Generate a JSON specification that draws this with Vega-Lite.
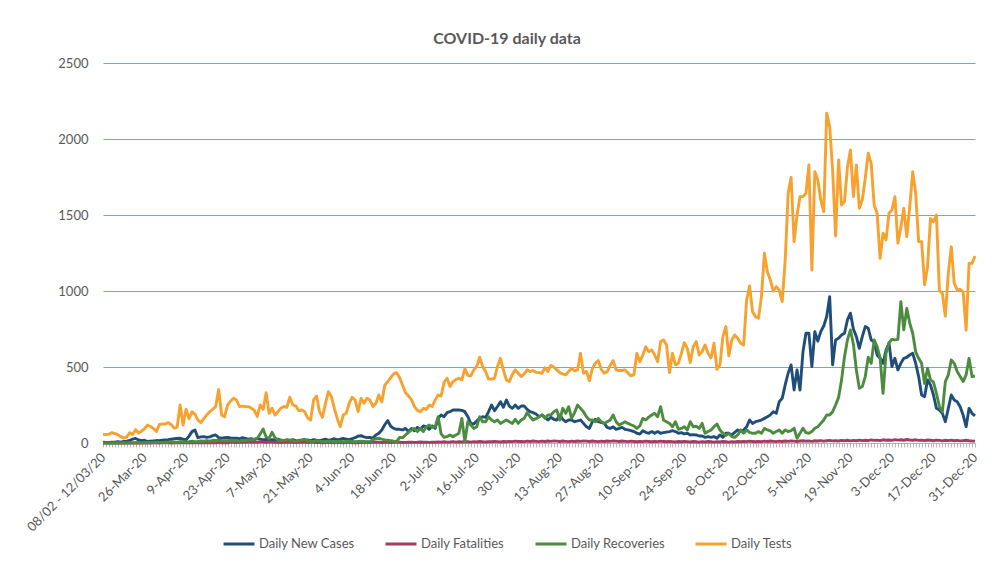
{
"$schema": "https://vega.github.io/schema/vega-lite/v6.json",
"width": 872, "height": 380,
"autosize": {"type": "none"},
"padding": {"left": 103, "top": 63, "right": 20, "bottom": 120},
"background": "white",
"config": {
 "font": "Lato",
 "view": {"stroke": null},
 "axisY": {"domain": false, "ticks": false, "grid": true, "gridColor": "#7F9FD6", "gridWidth": 1, "gridOpacity": 1, "labelColor": "#595959", "labelFontSize": 13, "labelPadding": 15, "tickCount": 5, "format": "d", "title": null},
 "axisX": {"grid": false, "domainColor": "#B0B0B0", "tickColor": "#B8B8B8", "tickSize": 4, "labelColor": "#595959", "labelFontSize": 13, "labelAngle": -45, "labelAlign": "right", "labelBaseline": "middle", "labelPadding": 8, "labelOverlap": false, "title": null}
},
"title": {"text": "COVID-19 daily data", "fontSize": 16, "fontWeight": "bold", "color": "#595959", "anchor": "middle", "dx": -32, "offset": 10},
"data": {"values": [
{"d":"08/02 - 12/03/20","c":5,"f":0,"r":0,"t":57},
{"d":"13-Mar-20","c":3,"f":0,"r":0,"t":55},
{"d":"14-Mar-20","c":4,"f":0,"r":0,"t":58},
{"d":"15-Mar-20","c":6,"f":0,"r":0,"t":68},
{"d":"16-Mar-20","c":5,"f":0,"r":0,"t":62},
{"d":"17-Mar-20","c":8,"f":0,"r":1,"t":55},
{"d":"18-Mar-20","c":5,"f":0,"r":0,"t":42},
{"d":"19-Mar-20","c":10,"f":0,"r":1,"t":32},
{"d":"20-Mar-20","c":12,"f":0,"r":0,"t":39},
{"d":"21-Mar-20","c":18,"f":0,"r":2,"t":68},
{"d":"22-Mar-20","c":25,"f":1,"r":1,"t":56},
{"d":"23-Mar-20","c":30,"f":0,"r":2,"t":88},
{"d":"24-Mar-20","c":20,"f":0,"r":3,"t":66},
{"d":"25-Mar-20","c":15,"f":1,"r":2,"t":78},
{"d":"26-Mar-20","c":18,"f":0,"r":3,"t":95},
{"d":"27-Mar-20","c":10,"f":1,"r":4,"t":118},
{"d":"28-Mar-20","c":12,"f":0,"r":2,"t":108},
{"d":"29-Mar-20","c":14,"f":1,"r":3,"t":96},
{"d":"30-Mar-20","c":16,"f":2,"r":5,"t":75},
{"d":"31-Mar-20","c":15,"f":0,"r":4,"t":122},
{"d":"1-Apr-20","c":18,"f":1,"r":3,"t":126},
{"d":"2-Apr-20","c":20,"f":2,"r":6,"t":125},
{"d":"3-Apr-20","c":22,"f":1,"r":5,"t":134},
{"d":"4-Apr-20","c":25,"f":0,"r":8,"t":120},
{"d":"5-Apr-20","c":28,"f":2,"r":6,"t":98},
{"d":"6-Apr-20","c":30,"f":1,"r":5,"t":105},
{"d":"7-Apr-20","c":31,"f":3,"r":8,"t":250},
{"d":"8-Apr-20","c":25,"f":1,"r":10,"t":118},
{"d":"9-Apr-20","c":20,"f":2,"r":7,"t":222},
{"d":"10-Apr-20","c":45,"f":1,"r":9,"t":160},
{"d":"11-Apr-20","c":75,"f":2,"r":12,"t":205},
{"d":"12-Apr-20","c":86,"f":3,"r":8,"t":190},
{"d":"13-Apr-20","c":35,"f":1,"r":10,"t":151},
{"d":"14-Apr-20","c":40,"f":2,"r":14,"t":134},
{"d":"15-Apr-20","c":42,"f":3,"r":12,"t":160},
{"d":"16-Apr-20","c":37,"f":2,"r":16,"t":185},
{"d":"17-Apr-20","c":40,"f":1,"r":12,"t":206},
{"d":"18-Apr-20","c":48,"f":3,"r":18,"t":222},
{"d":"19-Apr-20","c":53,"f":2,"r":15,"t":240},
{"d":"20-Apr-20","c":35,"f":4,"r":20,"t":353},
{"d":"21-Apr-20","c":31,"f":2,"r":14,"t":184},
{"d":"22-Apr-20","c":35,"f":3,"r":16,"t":173},
{"d":"23-Apr-20","c":37,"f":2,"r":15,"t":250},
{"d":"24-Apr-20","c":33,"f":4,"r":18,"t":275},
{"d":"25-Apr-20","c":31,"f":5,"r":14,"t":295},
{"d":"26-Apr-20","c":32,"f":3,"r":15,"t":283},
{"d":"27-Apr-20","c":28,"f":6,"r":12,"t":240},
{"d":"28-Apr-20","c":35,"f":4,"r":18,"t":243},
{"d":"29-Apr-20","c":30,"f":5,"r":15,"t":240},
{"d":"30-Apr-20","c":25,"f":7,"r":20,"t":239},
{"d":"1-May-20","c":28,"f":4,"r":22,"t":230},
{"d":"2-May-20","c":22,"f":6,"r":25,"t":215},
{"d":"3-May-20","c":30,"f":5,"r":30,"t":175},
{"d":"4-May-20","c":26,"f":8,"r":59,"t":250},
{"d":"5-May-20","c":20,"f":6,"r":92,"t":221},
{"d":"6-May-20","c":24,"f":5,"r":40,"t":331},
{"d":"7-May-20","c":18,"f":7,"r":30,"t":195},
{"d":"8-May-20","c":22,"f":6,"r":70,"t":228},
{"d":"9-May-20","c":20,"f":4,"r":33,"t":184},
{"d":"10-May-20","c":25,"f":5,"r":20,"t":206},
{"d":"11-May-20","c":18,"f":3,"r":18,"t":230},
{"d":"12-May-20","c":15,"f":4,"r":15,"t":240},
{"d":"13-May-20","c":20,"f":6,"r":20,"t":235},
{"d":"14-May-20","c":17,"f":5,"r":18,"t":301},
{"d":"15-May-20","c":22,"f":4,"r":15,"t":250},
{"d":"16-May-20","c":15,"f":3,"r":12,"t":243},
{"d":"17-May-20","c":12,"f":5,"r":18,"t":213},
{"d":"18-May-20","c":18,"f":4,"r":20,"t":217},
{"d":"19-May-20","c":14,"f":6,"r":25,"t":206},
{"d":"20-May-20","c":20,"f":3,"r":15,"t":165},
{"d":"21-May-20","c":16,"f":4,"r":12,"t":151},
{"d":"22-May-20","c":22,"f":5,"r":10,"t":283},
{"d":"23-May-20","c":18,"f":3,"r":15,"t":309},
{"d":"24-May-20","c":15,"f":4,"r":12,"t":206},
{"d":"25-May-20","c":20,"f":2,"r":10,"t":169},
{"d":"26-May-20","c":25,"f":3,"r":8,"t":261},
{"d":"27-May-20","c":18,"f":4,"r":12,"t":338},
{"d":"28-May-20","c":22,"f":3,"r":10,"t":305},
{"d":"29-May-20","c":28,"f":2,"r":8,"t":228},
{"d":"30-May-20","c":20,"f":4,"r":10,"t":160},
{"d":"31-May-20","c":25,"f":3,"r":12,"t":107},
{"d":"1-Jun-20","c":30,"f":2,"r":8,"t":184},
{"d":"2-Jun-20","c":26,"f":3,"r":10,"t":195},
{"d":"3-Jun-20","c":22,"f":4,"r":12,"t":261},
{"d":"4-Jun-20","c":28,"f":2,"r":10,"t":301},
{"d":"5-Jun-20","c":35,"f":3,"r":8,"t":283},
{"d":"6-Jun-20","c":45,"f":2,"r":10,"t":206},
{"d":"7-Jun-20","c":48,"f":4,"r":12,"t":294},
{"d":"8-Jun-20","c":40,"f":3,"r":10,"t":261},
{"d":"9-Jun-20","c":35,"f":5,"r":8,"t":294},
{"d":"10-Jun-20","c":37,"f":3,"r":10,"t":283},
{"d":"11-Jun-20","c":31,"f":4,"r":22,"t":240},
{"d":"12-Jun-20","c":53,"f":6,"r":28,"t":262},
{"d":"13-Jun-20","c":64,"f":5,"r":31,"t":316},
{"d":"14-Jun-20","c":86,"f":3,"r":25,"t":270},
{"d":"15-Jun-20","c":120,"f":4,"r":20,"t":380},
{"d":"16-Jun-20","c":147,"f":5,"r":18,"t":404},
{"d":"17-Jun-20","c":110,"f":3,"r":15,"t":430},
{"d":"18-Jun-20","c":96,"f":4,"r":12,"t":455},
{"d":"19-Jun-20","c":90,"f":6,"r":8,"t":463},
{"d":"20-Jun-20","c":90,"f":5,"r":37,"t":430},
{"d":"21-Jun-20","c":86,"f":3,"r":35,"t":380},
{"d":"22-Jun-20","c":96,"f":4,"r":53,"t":330},
{"d":"23-Jun-20","c":75,"f":5,"r":70,"t":310},
{"d":"24-Jun-20","c":96,"f":6,"r":86,"t":285},
{"d":"25-Jun-20","c":80,"f":4,"r":96,"t":240},
{"d":"26-Jun-20","c":103,"f":5,"r":75,"t":215},
{"d":"27-Jun-20","c":90,"f":7,"r":96,"t":206},
{"d":"28-Jun-20","c":112,"f":5,"r":75,"t":228},
{"d":"29-Jun-20","c":107,"f":6,"r":107,"t":221},
{"d":"30-Jun-20","c":90,"f":4,"r":118,"t":250},
{"d":"1-Jul-20","c":112,"f":6,"r":103,"t":240},
{"d":"2-Jul-20","c":96,"f":5,"r":107,"t":283},
{"d":"3-Jul-20","c":162,"f":7,"r":173,"t":316},
{"d":"4-Jul-20","c":184,"f":6,"r":60,"t":309},
{"d":"5-Jul-20","c":173,"f":8,"r":37,"t":400},
{"d":"6-Jul-20","c":200,"f":6,"r":42,"t":426},
{"d":"7-Jul-20","c":206,"f":7,"r":53,"t":371},
{"d":"8-Jul-20","c":217,"f":9,"r":42,"t":404},
{"d":"9-Jul-20","c":217,"f":6,"r":53,"t":418},
{"d":"10-Jul-20","c":217,"f":8,"r":64,"t":426},
{"d":"11-Jul-20","c":215,"f":7,"r":162,"t":415},
{"d":"12-Jul-20","c":206,"f":9,"r":8,"t":490},
{"d":"13-Jul-20","c":173,"f":8,"r":140,"t":445},
{"d":"14-Jul-20","c":129,"f":6,"r":118,"t":442},
{"d":"15-Jul-20","c":125,"f":9,"r":96,"t":481},
{"d":"16-Jul-20","c":145,"f":7,"r":107,"t":503},
{"d":"17-Jul-20","c":162,"f":10,"r":173,"t":564},
{"d":"18-Jul-20","c":173,"f":8,"r":140,"t":503},
{"d":"19-Jul-20","c":169,"f":7,"r":140,"t":470},
{"d":"20-Jul-20","c":206,"f":9,"r":173,"t":420},
{"d":"21-Jul-20","c":250,"f":8,"r":151,"t":420},
{"d":"22-Jul-20","c":213,"f":10,"r":140,"t":426},
{"d":"23-Jul-20","c":240,"f":9,"r":151,"t":503},
{"d":"24-Jul-20","c":272,"f":7,"r":129,"t":557},
{"d":"25-Jul-20","c":235,"f":10,"r":140,"t":480},
{"d":"26-Jul-20","c":283,"f":8,"r":151,"t":415},
{"d":"27-Jul-20","c":243,"f":11,"r":140,"t":404},
{"d":"28-Jul-20","c":228,"f":9,"r":129,"t":450},
{"d":"29-Jul-20","c":250,"f":12,"r":156,"t":481},
{"d":"30-Jul-20","c":228,"f":10,"r":129,"t":459},
{"d":"31-Jul-20","c":243,"f":11,"r":151,"t":437},
{"d":"1-Aug-20","c":243,"f":9,"r":162,"t":455},
{"d":"2-Aug-20","c":221,"f":12,"r":200,"t":481},
{"d":"3-Aug-20","c":206,"f":10,"r":173,"t":470},
{"d":"4-Aug-20","c":200,"f":13,"r":151,"t":477},
{"d":"5-Aug-20","c":191,"f":11,"r":160,"t":465},
{"d":"6-Aug-20","c":173,"f":9,"r":173,"t":463},
{"d":"7-Aug-20","c":184,"f":12,"r":184,"t":459},
{"d":"8-Aug-20","c":170,"f":10,"r":162,"t":495},
{"d":"9-Aug-20","c":151,"f":13,"r":184,"t":470},
{"d":"10-Aug-20","c":169,"f":11,"r":184,"t":510},
{"d":"11-Aug-20","c":156,"f":14,"r":206,"t":500},
{"d":"12-Aug-20","c":151,"f":12,"r":217,"t":481},
{"d":"13-Aug-20","c":184,"f":10,"r":151,"t":463},
{"d":"14-Aug-20","c":156,"f":13,"r":228,"t":455},
{"d":"15-Aug-20","c":140,"f":11,"r":195,"t":448},
{"d":"16-Aug-20","c":151,"f":9,"r":239,"t":470},
{"d":"17-Aug-20","c":151,"f":12,"r":162,"t":492},
{"d":"18-Aug-20","c":140,"f":10,"r":200,"t":475},
{"d":"19-Aug-20","c":145,"f":13,"r":250,"t":481},
{"d":"20-Aug-20","c":151,"f":11,"r":228,"t":590},
{"d":"21-Aug-20","c":129,"f":14,"r":206,"t":459},
{"d":"22-Aug-20","c":107,"f":12,"r":173,"t":470},
{"d":"23-Aug-20","c":96,"f":10,"r":151,"t":410},
{"d":"24-Aug-20","c":140,"f":13,"r":151,"t":490},
{"d":"25-Aug-20","c":156,"f":11,"r":140,"t":525},
{"d":"26-Aug-20","c":140,"f":9,"r":162,"t":542},
{"d":"27-Aug-20","c":135,"f":12,"r":140,"t":485},
{"d":"28-Aug-20","c":129,"f":10,"r":129,"t":459},
{"d":"29-Aug-20","c":103,"f":13,"r":140,"t":470},
{"d":"30-Aug-20","c":96,"f":11,"r":151,"t":510},
{"d":"31-Aug-20","c":107,"f":14,"r":184,"t":542},
{"d":"1-Sep-20","c":90,"f":12,"r":140,"t":481},
{"d":"2-Sep-20","c":96,"f":10,"r":118,"t":477},
{"d":"3-Sep-20","c":103,"f":13,"r":129,"t":477},
{"d":"4-Sep-20","c":90,"f":11,"r":140,"t":481},
{"d":"5-Sep-20","c":86,"f":9,"r":129,"t":460},
{"d":"6-Sep-20","c":81,"f":12,"r":120,"t":442},
{"d":"7-Sep-20","c":75,"f":10,"r":112,"t":450},
{"d":"8-Sep-20","c":64,"f":8,"r":96,"t":590},
{"d":"9-Sep-20","c":59,"f":11,"r":112,"t":535},
{"d":"10-Sep-20","c":81,"f":9,"r":162,"t":579},
{"d":"11-Sep-20","c":70,"f":12,"r":151,"t":634},
{"d":"12-Sep-20","c":64,"f":10,"r":170,"t":601},
{"d":"13-Sep-20","c":75,"f":8,"r":184,"t":612},
{"d":"14-Sep-20","c":64,"f":11,"r":195,"t":579},
{"d":"15-Sep-20","c":75,"f":9,"r":173,"t":535},
{"d":"16-Sep-20","c":64,"f":12,"r":239,"t":667},
{"d":"17-Sep-20","c":68,"f":10,"r":150,"t":678},
{"d":"18-Sep-20","c":72,"f":8,"r":140,"t":645},
{"d":"19-Sep-20","c":75,"f":11,"r":129,"t":463},
{"d":"20-Sep-20","c":81,"f":9,"r":107,"t":590},
{"d":"21-Sep-20","c":75,"f":7,"r":140,"t":514},
{"d":"22-Sep-20","c":64,"f":10,"r":90,"t":525},
{"d":"23-Sep-20","c":68,"f":8,"r":96,"t":590},
{"d":"24-Sep-20","c":60,"f":11,"r":107,"t":660},
{"d":"25-Sep-20","c":64,"f":9,"r":86,"t":623},
{"d":"26-Sep-20","c":53,"f":7,"r":140,"t":529},
{"d":"27-Sep-20","c":55,"f":10,"r":107,"t":634},
{"d":"28-Sep-20","c":53,"f":8,"r":110,"t":667},
{"d":"29-Sep-20","c":46,"f":6,"r":96,"t":579},
{"d":"30-Sep-20","c":46,"f":9,"r":129,"t":601},
{"d":"1-Oct-20","c":37,"f":7,"r":64,"t":645},
{"d":"2-Oct-20","c":42,"f":10,"r":75,"t":590},
{"d":"3-Oct-20","c":37,"f":8,"r":86,"t":560},
{"d":"4-Oct-20","c":42,"f":6,"r":107,"t":656},
{"d":"5-Oct-20","c":31,"f":9,"r":125,"t":485},
{"d":"6-Oct-20","c":53,"f":7,"r":86,"t":514},
{"d":"7-Oct-20","c":37,"f":10,"r":64,"t":700},
{"d":"8-Oct-20","c":64,"f":8,"r":50,"t":766},
{"d":"9-Oct-20","c":64,"f":6,"r":64,"t":573},
{"d":"10-Oct-20","c":53,"f":9,"r":42,"t":678},
{"d":"11-Oct-20","c":70,"f":7,"r":37,"t":711},
{"d":"12-Oct-20","c":86,"f":10,"r":53,"t":689},
{"d":"13-Oct-20","c":75,"f":8,"r":86,"t":656},
{"d":"14-Oct-20","c":86,"f":11,"r":64,"t":645},
{"d":"15-Oct-20","c":107,"f":9,"r":86,"t":941},
{"d":"16-Oct-20","c":151,"f":12,"r":70,"t":1033},
{"d":"17-Oct-20","c":129,"f":10,"r":64,"t":864},
{"d":"18-Oct-20","c":140,"f":8,"r":64,"t":831},
{"d":"19-Oct-20","c":145,"f":11,"r":75,"t":820},
{"d":"20-Oct-20","c":151,"f":9,"r":64,"t":963},
{"d":"21-Oct-20","c":162,"f":12,"r":96,"t":1248},
{"d":"22-Oct-20","c":173,"f":10,"r":86,"t":1127},
{"d":"23-Oct-20","c":185,"f":13,"r":80,"t":1072},
{"d":"24-Oct-20","c":206,"f":11,"r":64,"t":1000},
{"d":"25-Oct-20","c":195,"f":9,"r":75,"t":1028},
{"d":"26-Oct-20","c":272,"f":12,"r":86,"t":1006},
{"d":"27-Oct-20","c":294,"f":10,"r":64,"t":930},
{"d":"28-Oct-20","c":382,"f":13,"r":86,"t":1200},
{"d":"29-Oct-20","c":459,"f":11,"r":75,"t":1643},
{"d":"30-Oct-20","c":514,"f":14,"r":81,"t":1748},
{"d":"31-Oct-20","c":349,"f":12,"r":97,"t":1325},
{"d":"1-Nov-20","c":480,"f":10,"r":31,"t":1500},
{"d":"2-Nov-20","c":349,"f":13,"r":64,"t":1621},
{"d":"3-Nov-20","c":600,"f":15,"r":97,"t":1621},
{"d":"4-Nov-20","c":722,"f":12,"r":68,"t":1643},
{"d":"5-Nov-20","c":722,"f":14,"r":64,"t":1829},
{"d":"6-Nov-20","c":503,"f":11,"r":75,"t":1138},
{"d":"7-Nov-20","c":733,"f":15,"r":97,"t":1785},
{"d":"8-Nov-20","c":670,"f":13,"r":107,"t":1730},
{"d":"9-Nov-20","c":733,"f":16,"r":129,"t":1599},
{"d":"10-Nov-20","c":770,"f":12,"r":151,"t":1522},
{"d":"11-Nov-20","c":832,"f":15,"r":184,"t":2169},
{"d":"12-Nov-20","c":963,"f":17,"r":184,"t":2081},
{"d":"13-Nov-20","c":514,"f":14,"r":206,"t":1796},
{"d":"14-Nov-20","c":678,"f":16,"r":250,"t":1362},
{"d":"15-Nov-20","c":689,"f":13,"r":300,"t":1862},
{"d":"16-Nov-20","c":710,"f":17,"r":414,"t":1566},
{"d":"17-Nov-20","c":722,"f":15,"r":568,"t":1588},
{"d":"18-Nov-20","c":810,"f":18,"r":678,"t":1818},
{"d":"19-Nov-20","c":854,"f":14,"r":744,"t":1928},
{"d":"20-Nov-20","c":750,"f":17,"r":650,"t":1621},
{"d":"21-Nov-20","c":700,"f":15,"r":480,"t":1829},
{"d":"22-Nov-20","c":623,"f":19,"r":360,"t":1544},
{"d":"23-Nov-20","c":700,"f":16,"r":371,"t":1600},
{"d":"24-Nov-20","c":766,"f":18,"r":437,"t":1742},
{"d":"25-Nov-20","c":755,"f":15,"r":565,"t":1906},
{"d":"26-Nov-20","c":678,"f":20,"r":524,"t":1840},
{"d":"27-Nov-20","c":667,"f":17,"r":678,"t":1566},
{"d":"28-Nov-20","c":579,"f":19,"r":634,"t":1511},
{"d":"29-Nov-20","c":557,"f":16,"r":560,"t":1215},
{"d":"30-Nov-20","c":524,"f":21,"r":327,"t":1380},
{"d":"1-Dec-20","c":612,"f":18,"r":590,"t":1336},
{"d":"2-Dec-20","c":656,"f":20,"r":660,"t":1511},
{"d":"3-Dec-20","c":503,"f":17,"r":682,"t":1533},
{"d":"4-Dec-20","c":557,"f":22,"r":678,"t":1621},
{"d":"5-Dec-20","c":481,"f":19,"r":682,"t":1314},
{"d":"6-Dec-20","c":524,"f":21,"r":930,"t":1420},
{"d":"7-Dec-20","c":557,"f":18,"r":744,"t":1544},
{"d":"8-Dec-20","c":564,"f":23,"r":886,"t":1358},
{"d":"9-Dec-20","c":579,"f":20,"r":788,"t":1555},
{"d":"10-Dec-20","c":590,"f":18,"r":722,"t":1785},
{"d":"11-Dec-20","c":524,"f":21,"r":600,"t":1643},
{"d":"12-Dec-20","c":437,"f":17,"r":557,"t":1325},
{"d":"13-Dec-20","c":316,"f":19,"r":524,"t":1325},
{"d":"14-Dec-20","c":305,"f":16,"r":392,"t":1040},
{"d":"15-Dec-20","c":415,"f":20,"r":492,"t":1160},
{"d":"16-Dec-20","c":382,"f":18,"r":415,"t":1478},
{"d":"17-Dec-20","c":316,"f":15,"r":400,"t":1456},
{"d":"18-Dec-20","c":228,"f":19,"r":327,"t":1500},
{"d":"19-Dec-20","c":217,"f":17,"r":239,"t":1002},
{"d":"20-Dec-20","c":195,"f":14,"r":206,"t":984},
{"d":"21-Dec-20","c":140,"f":18,"r":404,"t":835},
{"d":"22-Dec-20","c":228,"f":16,"r":448,"t":1116},
{"d":"23-Dec-20","c":316,"f":19,"r":546,"t":1292},
{"d":"24-Dec-20","c":283,"f":15,"r":524,"t":1051},
{"d":"25-Dec-20","c":272,"f":17,"r":470,"t":1007},
{"d":"26-Dec-20","c":239,"f":14,"r":437,"t":1011},
{"d":"27-Dec-20","c":184,"f":16,"r":404,"t":995},
{"d":"28-Dec-20","c":107,"f":18,"r":448,"t":743},
{"d":"29-Dec-20","c":228,"f":15,"r":557,"t":1182},
{"d":"30-Dec-20","c":195,"f":13,"r":437,"t":1182},
{"d":"31-Dec-20","c":178,"f":12,"r":441,"t":1230}
]},
"encoding": {
 "x": {"field": "d", "type": "ordinal", "sort": null, "scale": {"type": "point", "padding": 0},
  "axis": {"labelExpr": "indexof(['08/02 - 12/03/20','26-Mar-20','9-Apr-20','23-Apr-20','7-May-20','21-May-20','4-Jun-20','18-Jun-20','2-Jul-20','16-Jul-20','30-Jul-20','13-Aug-20','27-Aug-20','10-Sep-20','24-Sep-20','8-Oct-20','22-Oct-20','5-Nov-20','19-Nov-20','3-Dec-20','17-Dec-20','31-Dec-20'], datum.value) >= 0 ? datum.value : ''"}}
},
"layer": [
 {"mark": {"type": "line", "strokeWidth": 2.9, "strokeJoin": "round"},
  "encoding": {
   "y": {"field": "c", "type": "quantitative", "scale": {"domain": [0, 2500], "nice": false}, "title": null, "axis": {"gridColor": "#7F9FD6", "gridOpacity": 1}},
   "color": {"datum": "Daily New Cases", "type": "nominal",
    "scale": {"domain": ["Daily New Cases", "Daily Fatalities", "Daily Recoveries", "Daily Tests"], "range": ["#1F4E79", "#A33B63", "#4C8C3F", "#F7A12F"]},
    "legend": {"orient": "none", "legendX": 119, "legendY": 464, "direction": "horizontal", "title": null, "symbolType": "stroke", "symbolSize": 961, "symbolStrokeWidth": 3, "labelFontSize": 13, "labelColor": "#595959", "labelOffset": 3, "columnPadding": 24}}
  }},
 {"mark": {"type": "line", "strokeWidth": 2.9, "strokeJoin": "round"},
  "encoding": {
   "y": {"field": "f", "type": "quantitative", "title": null},
   "color": {"datum": "Daily Fatalities", "type": "nominal"}
  }},
 {"mark": {"type": "line", "strokeWidth": 2.9, "strokeJoin": "round"},
  "encoding": {
   "y": {"field": "r", "type": "quantitative", "title": null},
   "color": {"datum": "Daily Recoveries", "type": "nominal"}
  }},
 {"mark": {"type": "line", "strokeWidth": 2.9, "strokeJoin": "round"},
  "encoding": {
   "y": {"field": "t", "type": "quantitative", "title": null},
   "color": {"datum": "Daily Tests", "type": "nominal"}
  }}
]
}
